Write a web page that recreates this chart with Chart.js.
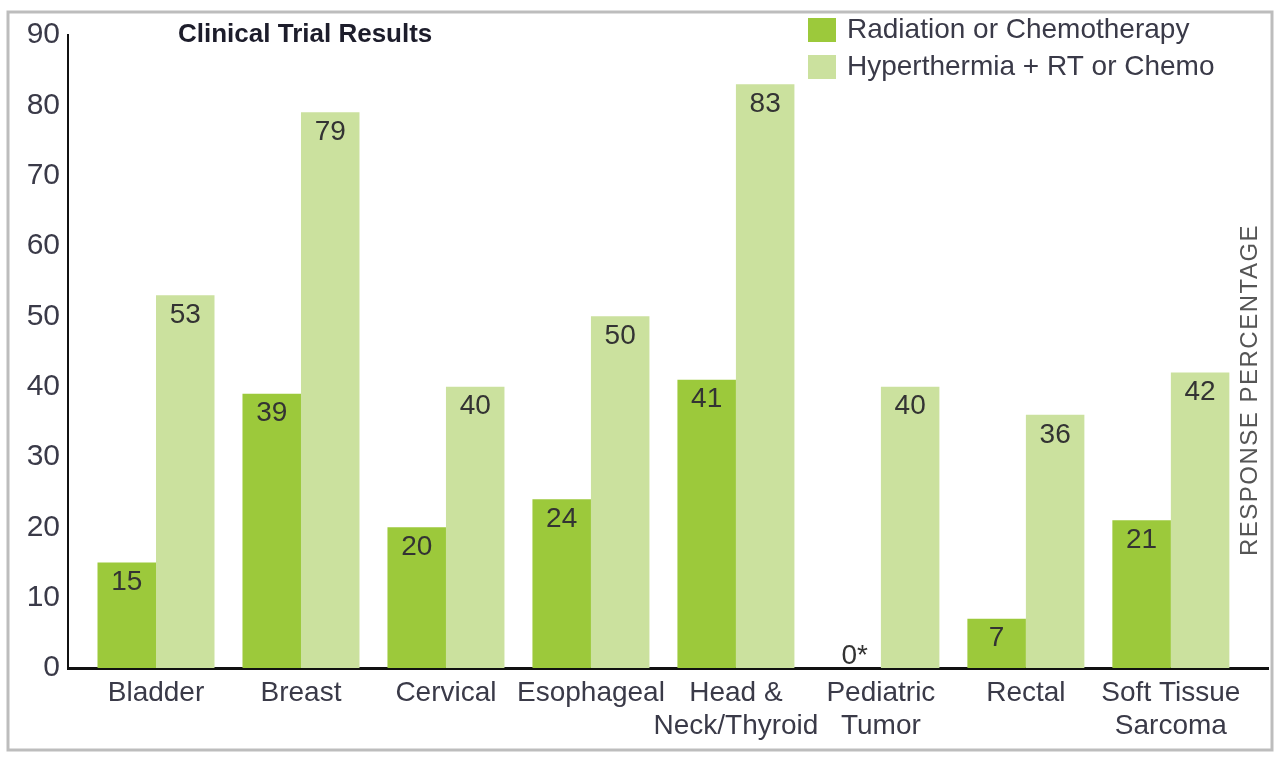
<!DOCTYPE html>
<html>
<head>
<meta charset="utf-8">
<title>Clinical Trial Results</title>
<script src="https://cdn.jsdelivr.net/npm/chart.js@4"></script>
<style>
  html, body { margin: 0; padding: 0; background: #fff; }
  #wrap { width: 1280px; height: 762px; position: relative; }
</style>
</head>
<body>
<div id="wrap"><canvas id="chart"></canvas></div>
<script>
// data
const categories = [
  ['Bladder'], ['Breast'], ['Cervical'], ['Esophageal'],
  ['Head &', 'Neck/Thyroid'], ['Pediatric', 'Tumor'], ['Rectal'], ['Soft Tissue', 'Sarcoma']
];
const seriesNames = ['Radiation or Chemotherapy', 'Hyperthermia + RT or Chemo'];
const standardValues = [15, 39, 20, 24, 41, 0, 7, 21];
const hyperthermiaValues = [53, 79, 40, 50, 83, 40, 36, 42];
const standardNotes = ['', '', '', '', '', '*', '', ''];
const hyperthermiaNotes = ['', '', '', '', '', '', '', ''];
const yTicks = [0, 10, 20, 30, 40, 50, 60, 70, 80, 90];
const chartTitle = 'Clinical Trial Results';
const axisTitle = 'RESPONSE PERCENTAGE';

const FONT = "'Liberation Sans', Arial, sans-serif";
const TEXT = '#3a3a48';
const DARK_GREEN = '#9cc93b';
const LIGHT_GREEN = '#cbe19e';

const toPoints = vals => vals.map((v, i) => ({ x: i, y: v }));

// frame around the whole figure
const framePlugin = {
  id: 'frame',
  beforeDraw(chart) {
    const ctx = chart.ctx;
    ctx.save();
    ctx.fillStyle = '#fff';
    ctx.fillRect(0, 0, chart.width, chart.height);
    ctx.strokeStyle = '#bdbdbd';
    ctx.lineWidth = 3;
    ctx.strokeRect(8, 12, 1264, 738);
    ctx.restore();
  }
};

// title, legend, side label
const textPlugin = {
  id: 'texts',
  afterDraw(chart) {
    const ctx = chart.ctx;
    ctx.save();
    ctx.fillStyle = '#1d1d2b';
    ctx.font = 'bold 26px ' + FONT;
    ctx.textBaseline = 'middle';
    ctx.textAlign = 'left';
    ctx.fillText(chartTitle, 178, 35);

    chart.data.datasets.forEach((ds, i) => {
      const y = 18 + i * 37;
      ctx.fillStyle = ds.backgroundColor;
      ctx.fillRect(808, y, 28, 24);
      ctx.fillStyle = TEXT;
      ctx.font = '28px ' + FONT;
      ctx.fillText(ds.label, 847, y + 12);
    });

    ctx.translate(1250, 390);
    ctx.rotate(-Math.PI / 2);
    ctx.fillStyle = '#555';
    ctx.font = '24px ' + FONT;
    ctx.letterSpacing = '1.5px';
    ctx.textAlign = 'center';
    ctx.fillText(axisTitle, 0, 0);
    ctx.restore();
  }
};

// numbers printed inside the bars
const valueLabels = {
  id: 'valueLabels',
  afterDatasetsDraw(chart) {
    const ctx = chart.ctx;
    ctx.save();
    ctx.font = '28px ' + FONT;
    ctx.fillStyle = '#333';
    ctx.textAlign = 'center';
    chart.data.datasets.forEach((ds, di) => {
      const meta = chart.getDatasetMeta(di);
      meta.data.forEach((bar, i) => {
        const v = ds.data[i].y;
        const txt = v + ds.notes[i];
        if (v === 0) {
          ctx.textBaseline = 'bottom';
          ctx.fillText(txt, bar.x + 3, bar.y + 2);
        } else {
          ctx.textBaseline = 'top';
          ctx.fillText(txt, bar.x, bar.y + 6);
        }
      });
    });
    ctx.restore();
  }
};

new Chart(document.getElementById('chart'), {
  type: 'bar',
  data: {
    datasets: [
      { label: seriesNames[0], data: toPoints(standardValues), notes: standardNotes,
        backgroundColor: DARK_GREEN, borderWidth: 0 },
      { label: seriesNames[1], data: toPoints(hyperthermiaValues), notes: hyperthermiaNotes,
        backgroundColor: LIGHT_GREEN, borderWidth: 0 }
    ]
  },
  options: {
    responsive: true,
    maintainAspectRatio: false,
    animation: false,
    categoryPercentage: 0.807,
    barPercentage: 1.0,
    layout: { padding: { top: 35, right: 12, bottom: 0, left: 0 } },
    plugins: {
      legend: { display: false },
      title: { display: false },
      tooltip: { enabled: false }
    },
    scales: {
      x: {
        type: 'linear',
        offset: false,
        min: -0.607,
        max: 7.67,
        afterBuildTicks: s => { s.ticks = categories.map((c, i) => ({ value: i })); },
        afterFit: s => { s.height = 94; },
        grid: { display: false, drawTicks: false, offset: false },
        border: { display: true, color: '#111', width: 3 },
        ticks: {
          callback: v => categories[v],
          autoSkip: false,
          maxRotation: 0,
          padding: 9,
          color: TEXT,
          font: { family: FONT, size: 28, lineHeight: 1.18 }
        }
      },
      y: {
        min: 0,
        max: 90,
        afterBuildTicks: s => { s.ticks = yTicks.map(v => ({ value: v })); },
        afterFit: s => { s.width = 68; },
        grid: { display: false, drawTicks: false },
        border: { display: true, color: '#111', width: 2 },
        ticks: {
          padding: 8,
          color: TEXT,
          font: { family: FONT, size: 30 }
        }
      }
    }
  },
  plugins: [framePlugin, textPlugin, valueLabels]
});
</script>
</body>
</html>
